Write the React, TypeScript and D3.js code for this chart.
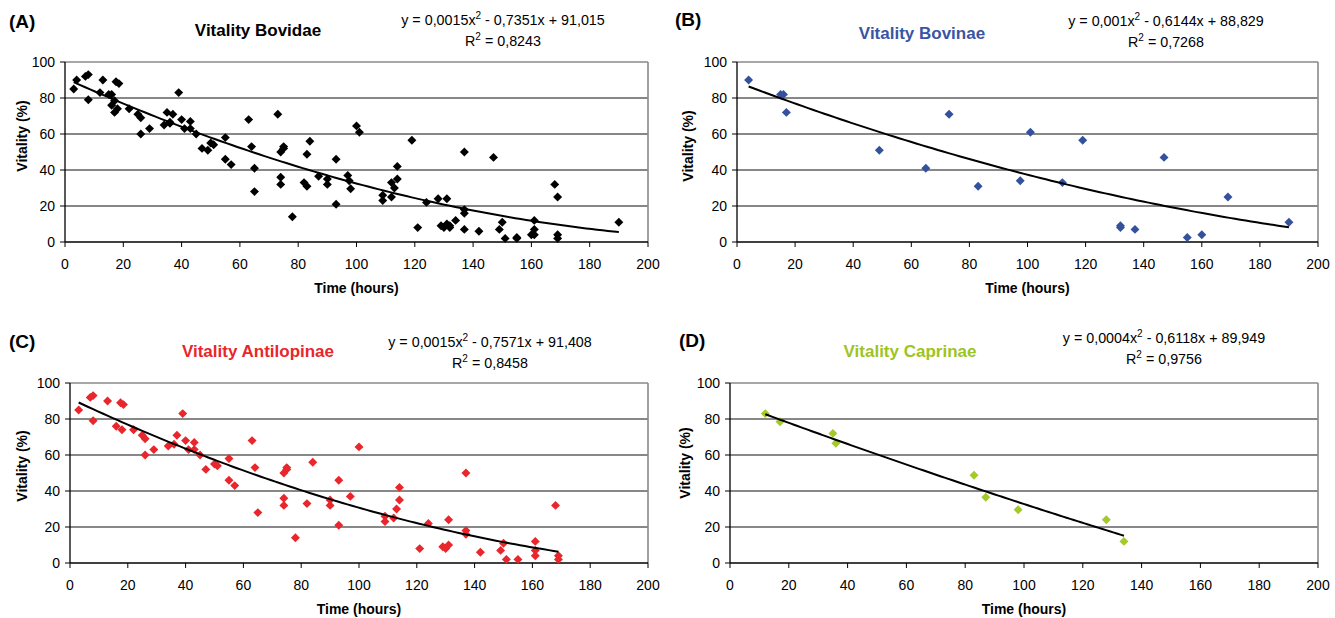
import React from "react";
import * as d3 from "d3";

// ---- data ----
const bovinaeX = [4, 15, 16, 17, 49, 65, 73, 83, 97.5, 101, 112, 119, 132, 132, 137, 147, 155, 160, 169, 190];
const bovinaeY = [90, 82, 82, 72, 51, 41, 71, 31, 34, 61, 33, 56.5, 9, 8, 7, 47, 2.5, 4, 25, 11];

const antilopinaeX = [3, 7, 8, 8, 13, 17.5, 18.5, 16, 18, 22, 25, 26, 26, 29, 34, 36, 37, 39, 40, 41, 43, 43, 45, 47, 50, 51, 55, 55, 57, 63, 64, 65, 74, 74, 74, 75, 75, 78, 82, 84, 90, 90, 93, 93, 97, 100, 109, 109, 112, 113, 114, 114, 121, 124, 129, 130, 131, 131, 137, 137, 137, 142, 149, 150, 151, 155, 161, 161, 161, 168, 169, 169];
const antilopinaeY = [85, 92, 93, 79, 90, 89, 88, 76, 74, 74, 71, 69, 60, 63, 65, 66, 71, 83, 68, 63, 67, 63, 60, 52, 55, 54, 58, 46, 43, 68, 53, 28, 32, 36, 50, 52, 53, 14, 33, 56, 32, 35, 21, 46, 37, 64.5, 23, 26, 25, 30, 35, 42, 8, 22, 9, 8, 10, 24, 50, 18, 16, 6, 7, 11, 2, 2, 12, 7, 4, 32, 4, 2];

const caprinaeX = [12, 17, 35, 36, 83, 87, 98, 128, 134];
const caprinaeY = [83, 78.5, 72, 66.5, 48.7, 36.5, 29.6, 24, 12];

const xTicks = [0, 20, 40, 60, 80, 100, 120, 140, 160, 180, 200];
const yTicks = [0, 20, 40, 60, 80, 100];

const zip = (xs: number[], ys: number[]) => xs.map((x, i) => ({ x, y: ys[i] }));

const bovinae = zip(bovinaeX, bovinaeY);
const antilopinae = zip(antilopinaeX, antilopinaeY);
const caprinae = zip(caprinaeX, caprinaeY);
const bovidae = [...bovinae, ...antilopinae, ...caprinae];

type PanelProps = {
  letter: string;
  title: string;
  titleColor: string;
  color: string;
  data: { x: number; y: number }[];
  coef: [number, number, number];
  eq: [string, string];
  r2: string;
  left: number;
  right: number;
  top: number;
  bottom: number;
  letterX: number;
  letterY: number;
  titleX: number;
  titleY: number;
  eqX: number;
  eqY: number;
  yTitleX: number;
  yTitleY: number;
};

function Panel(p: PanelProps) {
  const x = d3.scaleLinear().domain([0, 200]).range([p.left, p.right]);
  const y = d3.scaleLinear().domain([0, 100]).range([p.bottom, p.top]);
  const font = "'Liberation Sans', Arial, sans-serif";
  const ext = d3.extent(p.data, (d) => d.x) as [number, number];
  const xs = d3.range(ext[0], ext[1] + 0.001, (ext[1] - ext[0]) / 100);
  const [a, b, c] = p.coef;
  const line = d3
    .line<number>()
    .x((v) => x(v))
    .y((v) => y(a * v * v + b * v + c));
  const sym = d3.symbol(d3.symbolSquare, 40)()!;
  return (
    <g fontFamily={font}>
      <text x={p.letterX} y={p.letterY} fontSize={19} fontWeight="bold" fill="#000">
        {p.letter}
      </text>
      <text x={p.titleX} y={p.titleY} fontSize={17} fontWeight="bold" fill={p.titleColor} textAnchor="middle">
        {p.title}
      </text>
      <text x={p.eqX} y={p.eqY} fontSize={14.3} textAnchor="middle" fill="#000">
        {p.eq[0]}
        <tspan fontSize={10} dy={-6}>2</tspan>
        <tspan dy={6}>{p.eq[1]}</tspan>
      </text>
      <text x={p.eqX} y={p.eqY + 21} fontSize={14.3} textAnchor="middle" fill="#000">
        R<tspan fontSize={10} dy={-6}>2</tspan>
        <tspan dy={6}>{" = " + p.r2}</tspan>
      </text>
      {/* gridlines */}
      {yTicks.filter((t) => t > 0 && t < 100).map((t) => (
        <line key={t} x1={p.left} x2={p.right} y1={y(t)} y2={y(t)} stroke="#111" strokeWidth={1} />
      ))}
      <line x1={p.left} x2={p.right} y1={y(100)} y2={y(100)} stroke="#8a8a8a" strokeWidth={1.4} />
      <line x1={p.right} x2={p.right} y1={y(100)} y2={y(0)} stroke="#8a8a8a" strokeWidth={1.6} />
      {/* axes */}
      <line x1={p.left} x2={p.right} y1={y(0)} y2={y(0)} stroke="#000" strokeWidth={1.3} />
      <line x1={p.left} x2={p.left} y1={y(0)} y2={y(100)} stroke="#000" strokeWidth={1.3} />
      {xTicks.map((t) => (
        <g key={t}>
          <line x1={x(t)} x2={x(t)} y1={y(0)} y2={y(0) + 5} stroke="#000" />
          <text x={x(t)} y={y(0) + 27} fontSize={14} textAnchor="middle" fill="#000">
            {t}
          </text>
        </g>
      ))}
      {yTicks.map((t) => (
        <g key={t}>
          <line x1={p.left - 5} x2={p.left} y1={y(t)} y2={y(t)} stroke="#000" />
          <text x={p.left - 10} y={y(t) + 5} fontSize={14} textAnchor="end" fill="#000">
            {t}
          </text>
        </g>
      ))}
      <text
        transform={`translate(${p.yTitleX},${p.yTitleY}) rotate(-90)`}
        fontSize={14}
        fontWeight="bold"
        textAnchor="middle"
        fill="#000"
      >
        Vitality (%)
      </text>
      <text x={(p.left + p.right) / 2} y={p.bottom + 51} fontSize={14} fontWeight="bold" textAnchor="middle" fill="#000">
        Time (hours)
      </text>
      {/* points */}
      {p.data.map((d, i) => (
        <path key={i} d={sym} transform={`translate(${x(d.x)},${y(d.y)}) rotate(45)`} fill={p.color} />
      ))}
      <path d={line(xs) || ""} fill="none" stroke="#000" strokeWidth={2} />
    </g>
  );
}

export default function App() {
  return (
    <svg
      width={1335}
      height={618}
      style={{ position: "absolute", left: 0, top: 0, background: "#fff" }}
    >
      <rect width={1335} height={618} fill="#fff" />
      <Panel
        letter="(A)"
        title="Vitality Bovidae"
        titleColor="#000"
        color="#000"
        data={bovidae}
        coef={[0.0015, -0.7351, 91.015]}
        eq={["y = 0,0015x", " - 0,7351x + 91,015"]}
        r2="0,8243"
        left={65}
        right={648}
        top={62}
        bottom={242}
        letterX={9}
        letterY={28}
        titleX={258}
        titleY={36}
        eqX={503}
        eqY={25}
        yTitleX={27}
        yTitleY={136}
      />
      <Panel
        letter="(B)"
        title="Vitality Bovinae"
        titleColor="#3a54a4"
        color="#34519e"
        data={bovinae}
        coef={[0.001, -0.6144, 88.829]}
        eq={["y = 0,001x", " - 0,6144x + 88,829"]}
        r2="0,7268"
        left={737}
        right={1318}
        top={62}
        bottom={242}
        letterX={675}
        letterY={26}
        titleX={922}
        titleY={39}
        eqX={1166}
        eqY={26}
        yTitleX={693}
        yTitleY={146}
      />
      <Panel
        letter="(C)"
        title="Vitality Antilopinae"
        titleColor="#e8262b"
        color="#e8262b"
        data={antilopinae}
        coef={[0.0015, -0.7571, 91.408]}
        eq={["y = 0,0015x", " - 0,7571x + 91,408"]}
        r2="0,8458"
        left={70}
        right={648}
        top={383}
        bottom={563}
        letterX={9}
        letterY={348}
        titleX={258}
        titleY={357}
        eqX={490}
        eqY={347}
        yTitleX={27}
        yTitleY={466}
      />
      <Panel
        letter="(D)"
        title="Vitality Caprinae"
        titleColor="#9dc421"
        color="#a3c92b"
        data={caprinae}
        coef={[0.0004, -0.6118, 89.949]}
        eq={["y = 0,0004x", " - 0,6118x + 89,949"]}
        r2="0,9756"
        left={730}
        right={1318}
        top={383}
        bottom={563}
        letterX={679}
        letterY={347}
        titleX={910}
        titleY={357}
        eqX={1164}
        eqY={343}
        yTitleX={690}
        yTitleY={463}
      />
    </svg>
  );
}
